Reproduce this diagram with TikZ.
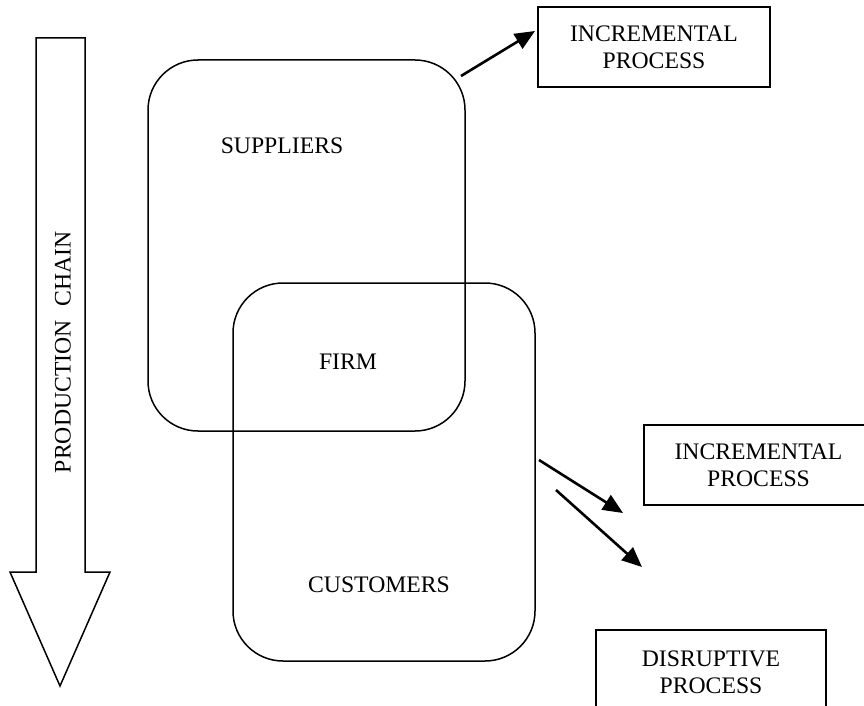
\documentclass[tikz,border=0pt]{standalone}
\usepackage{fontspec}
\setmainfont{Liberation Serif}
\usetikzlibrary{arrows.meta}
\begin{document}
\begin{tikzpicture}[x=1pt,y=-1pt,
  lbl/.style={font=\fontsize{23.7}{27}\selectfont, align=center, inner sep=0pt},
  rbox/.style={draw, line width=1.5pt, rounded corners=50pt},
  pbox/.style={draw, line width=1.5pt},
  conn/.style={line width=2.6pt, -{Triangle[length=20pt,width=17pt]}}]
\useasboundingbox (0,0) rectangle (864,706);
% production chain arrow
\draw[line width=1.5pt, line join=miter]
  (36,38) -- (85,38) -- (85,572) -- (110,572) -- (60,686) -- (10,572) -- (36,572) -- cycle;
\node[lbl, rotate=90] (chain) at (63,352) {PRODUCTION\hspace{0.6em}CHAIN};
% boxes
\draw[rbox] (148,60) rectangle (465,431);
\draw[rbox] (233,283) rectangle (535,661);
\node[lbl] (sup) at (282,146) {SUPPLIERS};
\node[lbl] (firm) at (348,362) {FIRM};
\node[lbl] (cust) at (379,585) {CUSTOMERS};
% process boxes
\node[pbox, minimum width=232pt, minimum height=80pt, lbl] (inc1) at (654,47) {INCREMENTAL\\PROCESS};
\node[lbl] (inc2) at (758.5,465) {INCREMENTAL\\PROCESS};
\draw[line width=1.5pt] (864,425) -- (644,425) -- (644,505) -- (864,505);
\node[lbl] (dis) at (711,672) {DISRUPTIVE\\PROCESS};
\draw[line width=1.5pt] (596,706) -- (596,630) -- (826,630) -- (826,706);
% connectors
\coordinate (a1s) at (461,76);
\coordinate (a1e) at (535,31);
\coordinate (a2s) at (539,460);
\coordinate (a2e) at (623,513);
\coordinate (a3s) at (556,490);
\coordinate (a3e) at (642,567);
\draw[conn] (a1s) -- (a1e);
\draw[conn] (a2s) -- (a2e);
\draw[conn] (a3s) -- (a3e);
\end{tikzpicture}
\end{document}
